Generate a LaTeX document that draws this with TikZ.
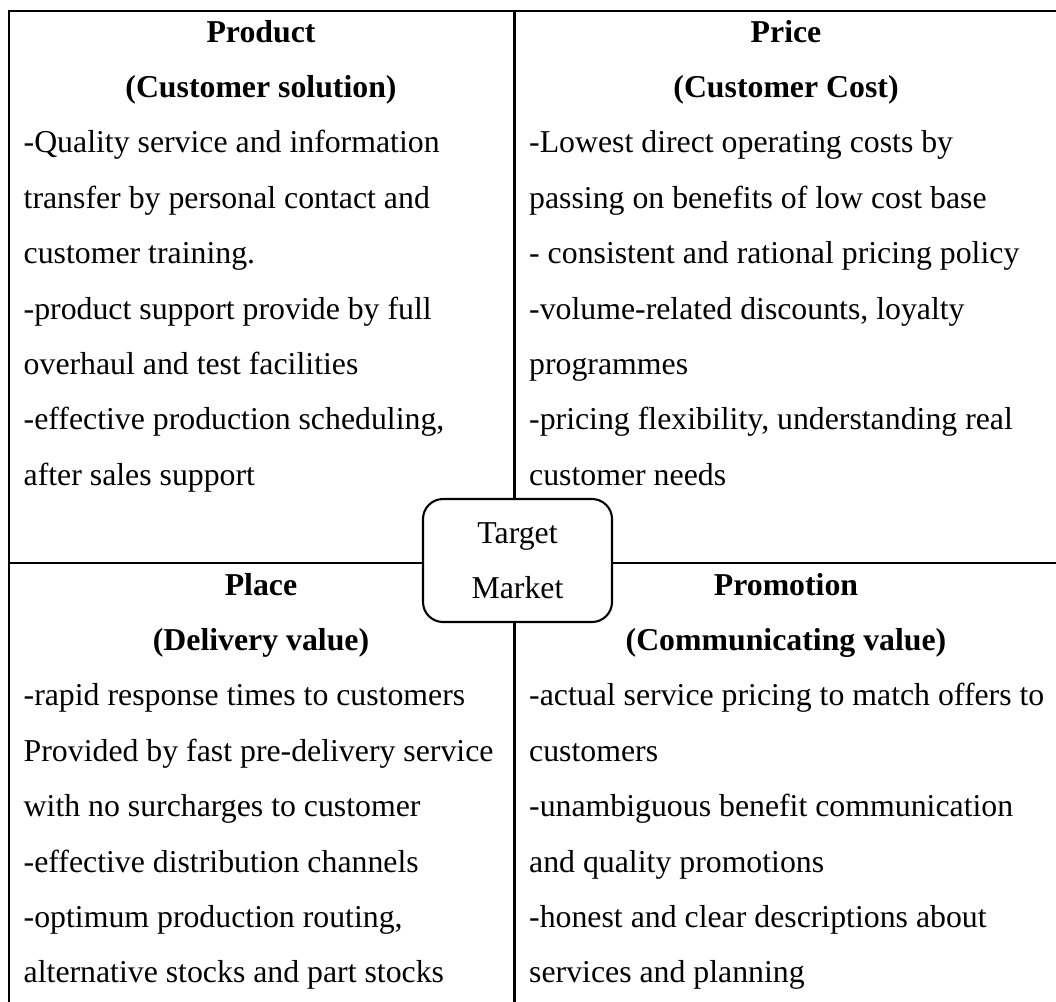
\documentclass[tikz,border=0pt]{standalone}
\usepackage{fontspec}
\setmainfont{Liberation Serif}
\begin{document}
\begin{tikzpicture}[x=1pt,y=-1pt,
  rule/.style={line width=2.3pt,line cap=rect},
  body/.style={font=\fontsize{31.8}{38}\selectfont,inner sep=0pt,anchor=base west},
  head/.style={font=\fontsize{31.8}{38}\selectfont\bfseries,inner sep=0pt,anchor=base},
  centerbox/.style={draw,line width=2.1pt,rounded corners=20pt,minimum width=189pt,minimum height=123pt,inner sep=0pt}]
\useasboundingbox (0,0) rectangle (1056,1001);
% frame and dividers
\coordinate (tl) at (9,11);
\coordinate (tr) at (1056,11);
\coordinate (bl) at (9,1001);
\coordinate (vt) at (514.5,11);
\coordinate (vb) at (514.5,1001);
\coordinate (hl) at (9,563);
\coordinate (hr) at (1056,563);
\node[centerbox] (tm) at (517.5,560.5) {};
\node[font=\fontsize{31.8}{38}\selectfont,inner sep=0pt,anchor=base] (tm1) at (517.5,543) {Target};
\node[font=\fontsize{31.8}{38}\selectfont,inner sep=0pt,anchor=base] (tm2) at (517.5,598) {Market};
\draw[rule] (tl) -- (tr);
\draw[rule] (tl) -- (bl);
\draw[rule] (vt) -- (vt |- tm.north);
\draw[rule] (vb |- tm.south) -- (vb);
\draw[rule] (hl) -- (hl -| tm.west);
\draw[rule] (hr -| tm.east) -- (hr);
% headings
\node[head] (h1a) at (261,42) {Product};
\node[head] (h1b) at (261,97.4) {(Customer solution)};
\node[head] (h2a) at (786,42) {Price};
\node[head] (h2b) at (786,97.4) {(Customer Cost)};
\node[head] (h3a) at (261,595) {Place};
\node[head] (h3b) at (261,650.4) {(Delivery value)};
\node[head] (h4a) at (786,595) {Promotion};
\node[head] (h4b) at (786,650.4) {(Communicating value)};
% body text
\foreach \t [count=\i] in {-Quality service and information,
  transfer by personal contact and,
  customer training.,
  -product support provide by full,
  overhaul and test facilities,
  {-effective production scheduling,},
  after sales support}
  {\node[body] (pa\i) at (23.5,{97.4+55.4*\i}) {\t};}
\foreach \t [count=\i] in {-Lowest direct operating costs by,
  passing on benefits of low cost base,
  - consistent and rational pricing policy,
  {-volume-related discounts, loyalty},
  programmes,
  {-pricing flexibility, understanding real},
  customer needs}
  {\node[body] (pb\i) at (529,{97.4+55.4*\i}) {\t};}
\foreach \t [count=\i] in {-rapid response times to customers,
  Provided by fast pre-delivery service,
  with no surcharges to customer,
  -effective distribution channels,
  {-optimum production routing,},
  alternative stocks and part stocks}
  {\node[body] (pc\i) at (23.5,{650.4+55.4*\i}) {\t};}
\foreach \t [count=\i] in {-actual service pricing to match offers to,
  customers,
  -unambiguous benefit communication,
  and quality promotions,
  -honest and clear descriptions about,
  services and planning}
  {\node[body] (pd\i) at (529,{650.4+55.4*\i}) {\t};}
\end{tikzpicture}
\end{document}
